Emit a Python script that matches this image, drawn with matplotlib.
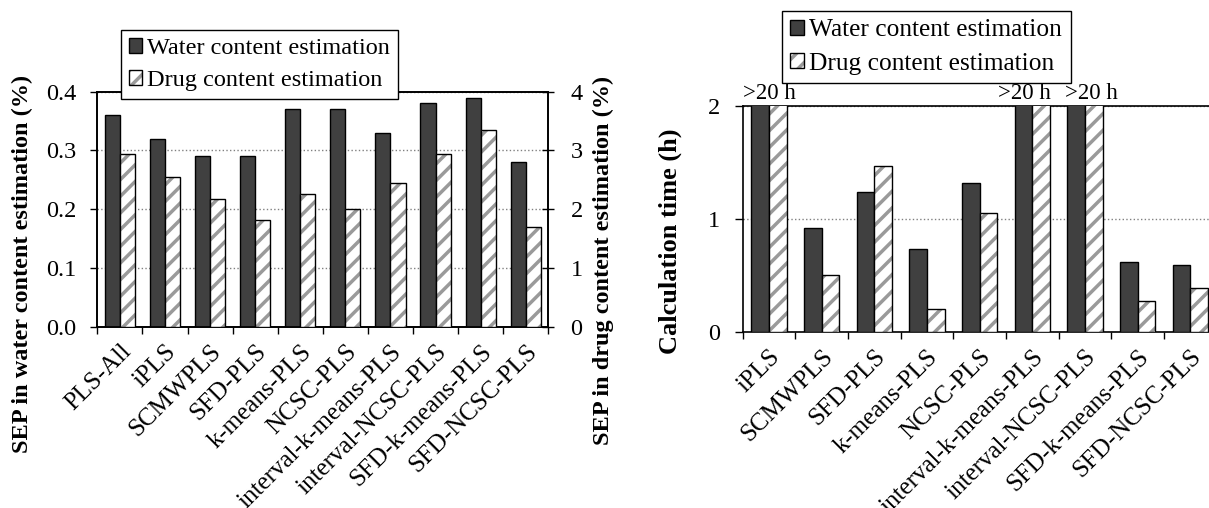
import numpy as np
import matplotlib.pyplot as plt
from matplotlib.patches import Patch

plt.rcParams['font.family'] = ['Liberation Serif', 'DejaVu Serif']
plt.rcParams['hatch.linewidth'] = 2.5

# SEP results (left panel)
methods_sep = ['PLS-All', 'iPLS', 'SCMWPLS', 'SFD-PLS', 'k-means-PLS', 'NCSC-PLS',
               'interval-k-means-PLS', 'interval-NCSC-PLS', 'SFD-k-means-PLS', 'SFD-NCSC-PLS']
sep_water = [0.36, 0.32, 0.29, 0.29, 0.37, 0.37, 0.33, 0.38, 0.39, 0.28]
sep_drug = [2.94, 2.54, 2.18, 1.82, 2.26, 2.00, 2.44, 2.94, 3.35, 1.69]

# calculation time (right panel), 20 stands for ">20 h"
methods_time = ['iPLS', 'SCMWPLS', 'SFD-PLS', 'k-means-PLS', 'NCSC-PLS',
                'interval-k-means-PLS', 'interval-NCSC-PLS', 'SFD-k-means-PLS', 'SFD-NCSC-PLS']
time_water = [20, 0.92, 1.24, 0.73, 1.32, 20, 20, 0.62, 0.59]
time_drug = [20, 0.50, 1.47, 0.20, 1.05, 20, 20, 0.27, 0.39]
time_notes = ['>20 h', '', '', '', '', '>20 h', '>20 h', '', '']

DARK = '#404040'
HATCH = '#9a9a9a'
FS = 17.5
W = 0.335

fig = plt.figure(figsize=(12.09, 5.08), dpi=100)


def water_bars(ax, x, h):
    ax.bar(x - W / 2, h, W, color=DARK, edgecolor='black', linewidth=1, zorder=3)


def drug_bars(ax, x, h):
    ax.bar(x + W / 2, h, W, color='white', edgecolor=HATCH, hatch='//', linewidth=0, zorder=3)
    ax.bar(x + W / 2, h, W, color='none', edgecolor='black', linewidth=1, zorder=3)


def setup_x(ax, names):
    n = len(names)
    ax.set_xlim(-0.5, n - 0.5)
    ax.set_xticks(np.arange(n + 1) - 0.5)
    ax.set_xticklabels([])
    ax.set_xticks(np.arange(n), minor=True)
    ax.set_xticklabels(names, minor=True, rotation=45, ha='right',
                       rotation_mode='anchor', fontsize=18)
    ax.tick_params(axis='x', which='major', direction='out', length=5, width=1)
    ax.tick_params(axis='x', which='minor', length=0, pad=10)


# ---- left panel ----
ax1 = fig.add_axes([97.3 / 1209, 1 - 326.7 / 508, 451 / 1209, 235 / 508])
x1 = np.arange(len(methods_sep))
water_bars(ax1, x1, sep_water)
ax1.set_ylim(0, 0.4)
ax1.set_yticks([0, 0.1, 0.2, 0.3, 0.4])
ax1.set_yticklabels(['0.0', '0.1', '0.2', '0.3', '0.4'])
ax1.yaxis.grid(True, linestyle=':', color='#808080', linewidth=1)
ax1.set_axisbelow(True)
setup_x(ax1, methods_sep)
ax1.tick_params(axis='y', direction='out', length=5, width=1, pad=10, labelsize=FS)

ax1b = ax1.twinx()
drug_bars(ax1b, x1, sep_drug)
ax1b.set_ylim(0, 4)
ax1b.set_yticks([0, 1, 2, 3, 4])
ax1b.tick_params(axis='y', direction='inout', length=8, width=1, pad=12, labelsize=FS)
for a in (ax1, ax1b):
    for s in a.spines.values():
        s.set_linewidth(1.2)

# ---- right panel ----
ax2 = fig.add_axes([742.7 / 1209, 1 - 331.7 / 508, 474 / 1209, 225.7 / 508])
x2 = np.arange(len(methods_time))
water_bars(ax2, x2, time_water)
drug_bars(ax2, x2, time_drug)
ax2.set_ylim(0, 2)
ax2.set_yticks([0, 1, 2])
ax2.yaxis.grid(True, linestyle=':', color='#808080', linewidth=1)
ax2.set_axisbelow(True)
setup_x(ax2, methods_time)
ax2.tick_params(axis='y', direction='out', length=6, width=1, pad=10, labelsize=FS)
for s in ax2.spines.values():
    s.set_linewidth(1.2)
for i, note in enumerate(time_notes):
    if not note:
        continue
    # neighbouring notes are pushed apart a little so they do not touch
    shift = 0.0
    if i + 1 < len(time_notes) and time_notes[i + 1]:
        shift -= 0.16
    if i > 0 and time_notes[i - 1]:
        shift += 0.12
    ax2.text(x2[i] + shift, 2.02, note, ha='center', va='bottom', fontsize=16.5, clip_on=False)

# ---- axis titles ----
fig.text(22 / 1209, 1 - 264 / 508, 'SEP in water content estimation (%)', rotation=90,
         ha='center', va='center', fontsize=FS, fontweight='bold')
fig.text(603 / 1209, 1 - 260 / 508, 'SEP in drug content estimation (%)', rotation=90,
         ha='center', va='center', fontsize=FS, fontweight='bold')
fig.text(670 / 1209, 1 - 241 / 508, 'Calculation time (h)', rotation=90,
         ha='center', va='center', fontsize=19, fontweight='bold')

# ---- legends ----
h_water = Patch(facecolor=DARK, edgecolor='black', linewidth=1)
h_drug = (Patch(facecolor='white', edgecolor=HATCH, hatch='//', linewidth=0),
          Patch(facecolor='none', edgecolor='black', linewidth=1))
labels = ['Water content estimation', 'Drug content estimation']
for x0, y0, fs in [(121, 30, FS), (782, 11, 18.3)]:
    leg = fig.legend([h_water, h_drug], labels, loc='upper left',
                     bbox_to_anchor=(x0 / 1209, 1 - y0 / 508), fontsize=fs,
                     handlelength=0.55, handleheight=0.55, handletextpad=0.2,
                     labelspacing=0.45, borderpad=0.33, borderaxespad=0,
                     fancybox=False, framealpha=1, edgecolor='black')
    leg.get_frame().set_linewidth(1)

fig.savefig('out.png', dpi=100)
